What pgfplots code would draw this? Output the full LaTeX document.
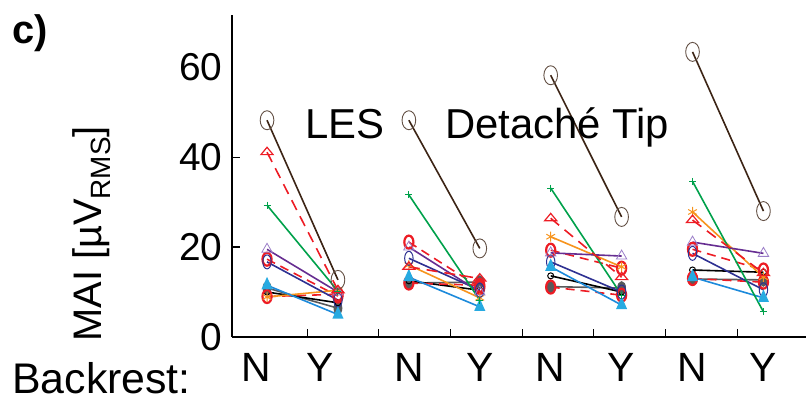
\documentclass[border=0pt]{standalone}
\usepackage{fontspec}
\setmainfont{Liberation Sans}
\usepackage{pgfplots}
\usepackage{pgfplotstable}
\pgfplotsset{compat=1.18}
\definecolor{cbrown}{HTML}{3C2415}
\definecolor{cred}{HTML}{ED1C24}
\definecolor{cgreen}{HTML}{00A14B}
\definecolor{cpurple}{HTML}{662D91}
\definecolor{cpurplel}{HTML}{9B7EC8}
\definecolor{cnavy}{HTML}{2E3192}
\definecolor{cblue}{HTML}{1C8ADB}
\definecolor{cbluel}{HTML}{27AAE1}
\definecolor{corange}{HTML}{F7941D}
\definecolor{cgray}{HTML}{58595B}
\definecolor{clgray}{HTML}{8C8C8C}

% columns: N/Y positions; nan rows separate the four conditions
\pgfplotstableread{
x   A    B    C    D    E    F    G    H    I    J    K
1   48.2 41.1 29.3 19.5 16.7 11.5 8.9  10.9 10.0 17.3 9.0
2   12.7 10.4 10.2 10.0 8.2  5.0  10.4 6.4  7.6  9.1  9.5
2.5 nan  nan  nan  nan  nan  nan  nan  nan  nan  nan  nan
3   48.2 15.6 31.6 20.0 17.5 13.3 16.0 12.0 12.5 21.1 12.0
4   19.7 13.0 8.2  10.0 10.4 6.7  8.7  12.2 10.4 11.0 11.5
4.5 nan  nan  nan  nan  nan  nan  nan  nan  nan  nan  nan
5   58.2 26.4 33.1 18.7 16.7 15.6 22.3 11.2 13.6 19.3 11.1
6   26.7 13.3 9.3  18.0 10.0 7.1  15.6 10.9 10.0 15.3 9.3
6.5 nan  nan  nan  nan  nan  nan  nan  nan  nan  nan  nan
7   63.4 26.0 34.6 21.1 18.6 13.3 27.8 12.9 14.9 19.5 13.0
8   28.0 14.2 5.6  18.6 10.5 8.7  13.3 12.7 14.4 14.9 12.2
}\datatab

\begin{document}
\begin{tikzpicture}
\path[use as bounding box] (0,0) rectangle (808bp,417bp);
\begin{axis}[
  at={(232bp,80bp)}, anchor=south west,
  scale only axis, width=574bp, height=322bp,
  xmin=0.506, xmax=8.6, ymin=0, ymax=71.6,
  axis lines=left,
  axis line style={-, line width=1.6bp, black},
  x axis line style={line width=2.6bp},
  tick align=inside,
  major tick length=8bp,
  tick style={line width=1.2bp, black},
  xtick={1.565,2.576,3.587,4.598,5.609,6.620,7.631},
  xticklabels={},
  extra x ticks={0.85,1.75,3,4,5,6,7,8},
  extra x tick labels={N,Y,N,Y,N,Y,N,Y},
  extra x tick style={major tick length=0pt},
  xticklabel style={font=\fontsize{41}{41}\selectfont, yshift=-13bp},
  ytick={20,40},
  yticklabels={20,40},
  extra y ticks={0,60},
  extra y tick labels={0,60},
  extra y tick style={major tick length=0pt},
  yticklabel style={font=\fontsize{39}{39}\selectfont, xshift=-6bp},
  /pgf/number format/assume math mode=true,
  every axis y label/.style={at={(rel axis cs:-0.244,0.32)}, rotate=90, anchor=center},
  ylabel={\fontsize{40}{40}\selectfont MAI [µV\raisebox{-0.22em}{\fontsize{28}{28}\selectfont RMS}]},
  unbounded coords=jump,
  clip=false,
]
\addplot[cgray, line width=1.6bp, mark=*, mark size=6bp, mark options={xscale=0.6, fill=cgray, draw=cgray}] table[x=x,y=H]{\datatab};
\addplot[black, line width=1.6bp, mark=o, mark size=3bp, mark options={line width=1bp}] table[x=x,y=I]{\datatab};
\addplot[cred, dash pattern=on 9bp off 6bp, line width=1.6bp, mark=o, mark size=6.5bp, mark options={solid, xscale=0.7, line width=2.2bp}] table[x=x,y=K]{\datatab};
\addplot[cred, dash pattern=on 9bp off 6bp, line width=1.6bp, mark=o, mark size=6.5bp, mark options={solid, xscale=0.7, line width=2.2bp}] table[x=x,y=J]{\datatab};
\addplot[corange, line width=1.6bp, mark=asterisk, mark size=5bp, mark options={line width=1bp}] table[x=x,y=G]{\datatab};
\addplot[cnavy, line width=1.6bp, mark=o, mark size=7bp, mark options={xscale=0.6, line width=1bp}] table[x=x,y=E]{\datatab};
\addplot[cpurple, line width=1.6bp, mark=triangle, mark size=6bp, mark options={draw=cpurplel, line width=0.8bp}] table[x=x,y=D]{\datatab};
\addplot[cblue, line width=1.6bp, mark=triangle*, mark size=5bp, mark options={fill=cbluel, draw=cbluel, yscale=1.3}] table[x=x,y=F]{\datatab};
\addplot[cgreen, line width=1.6bp, mark=+, mark size=3.5bp, mark options={line width=1bp}] table[x=x,y=C]{\datatab};
\addplot[cred, dash pattern=on 11bp off 7bp, line width=1.6bp, mark=triangle, mark size=7bp, mark options={solid, yscale=0.7, fill=white, line width=1.2bp}] table[x=x,y=B]{\datatab};
\addplot[cbrown, line width=1.6bp, mark=o, mark size=9.5bp, mark options={xscale=0.72, fill=white, draw=cbrown!80, line width=0.9bp}] table[x=x,y=A]{\datatab};
\node[anchor=base west, inner sep=0pt, font=\fontsize{42}{42}\selectfont] at (axis cs:1.536,44.2) {LES};
\node[anchor=base west, inner sep=0pt, font=\fontsize{42}{42}\selectfont] at (axis cs:3.51,44.2) {Detaché Tip};
\end{axis}
\node[anchor=base west, inner sep=0pt, font=\fontsize{40}{40}\selectfont\bfseries] at (12bp,373bp) {c)};
\node[anchor=base west, inner sep=0pt, font=\fontsize{43}{43}\selectfont] at (12bp,24bp) {Backrest:};
\end{tikzpicture}
\end{document}
